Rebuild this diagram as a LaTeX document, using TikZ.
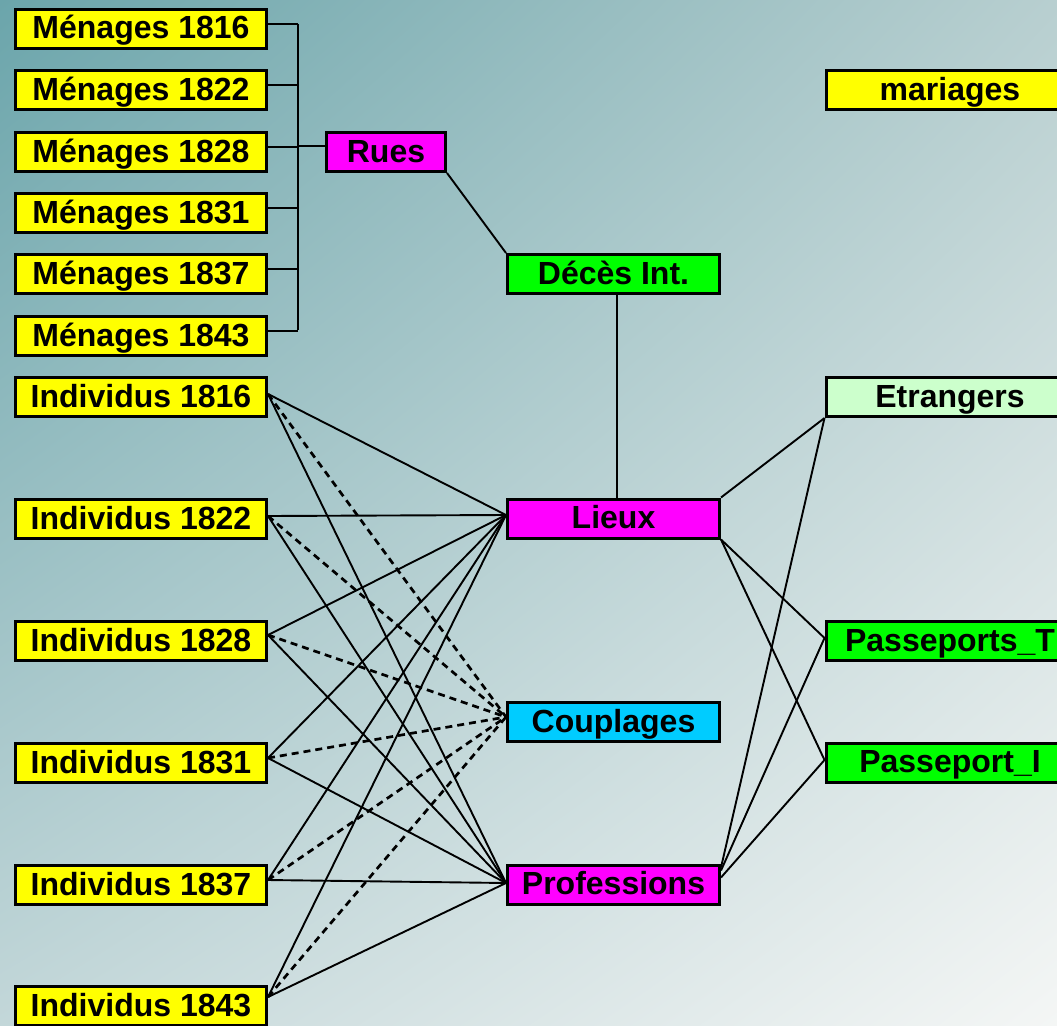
\documentclass[tikz,border=0pt]{standalone}
\usepackage{fontspec}
\setmainfont{Liberation Sans}
\usetikzlibrary{shadings}
\definecolor{bgUL}{HTML}{6BA5AB}
\definecolor{bgUR}{HTML}{B8CFD0}
\definecolor{bgLL}{HTML}{C3D7D9}
\definecolor{bgLR}{HTML}{F4F6F5}
\definecolor{boxyellow}{HTML}{FFFF00}
\definecolor{boxmagenta}{HTML}{FF00FF}
\definecolor{boxgreen}{HTML}{00FF00}
\definecolor{boxcyan}{HTML}{00CCFF}
\definecolor{boxpale}{HTML}{CCFFCC}
\begin{document}
\begin{tikzpicture}[x=1pt,y=-1pt,
  box/.style={draw=black, line width=3pt, minimum width=251pt, minimum height=39pt,
    inner sep=0pt, text height=26pt, text depth=6pt,
    font=\fontsize{32}{36}\selectfont\bfseries},
  midbox/.style={box, minimum width=212pt},
  rbox/.style={box, minimum width=248pt},
  link/.style={draw=black, line width=1.9pt},
  dlink/.style={draw=black, line width=2.7pt, dash pattern=on 7pt off 5pt}]
\useasboundingbox (0,0) rectangle (1057,1025);
\clip (0,0) rectangle (1057,1025);
\shade[upper left=bgUL, upper right=bgUR, lower left=bgLL, lower right=bgLR]
  (0,0) rectangle (1057,1025);

% left column
\node[box, fill=boxyellow] (m1) at (141,29)  {Ménages 1816};
\node[box, fill=boxyellow] (m2) at (141,90)  {Ménages 1822};
\node[box, fill=boxyellow] (m3) at (141,152) {Ménages 1828};
\node[box, fill=boxyellow] (m4) at (141,213) {Ménages 1831};
\node[box, fill=boxyellow] (m5) at (141,274) {Ménages 1837};
\node[box, fill=boxyellow] (m6) at (141,336) {Ménages 1843};
\node[box, fill=boxyellow] (i1) at (141,397)  {Individus 1816};
\node[box, fill=boxyellow] (i2) at (141,519)  {Individus 1822};
\node[box, fill=boxyellow] (i3) at (141,641)  {Individus 1828};
\node[box, fill=boxyellow] (i4) at (141,763)  {Individus 1831};
\node[box, fill=boxyellow] (i5) at (141,885)  {Individus 1837};
\node[box, fill=boxyellow] (i6) at (141,1006) {Individus 1843};

% middle column
\node[box, fill=boxmagenta, minimum width=119pt] (rues) at (386,152) {Rues};
\node[midbox, fill=boxgreen]   (deces) at (613.5,274)   {Décès Int.};
\node[midbox, fill=boxmagenta] (lieux) at (613.5,518.5) {Lieux};
\node[midbox, fill=boxcyan]    (coup)  at (613.5,722)   {Couplages};
\node[midbox, fill=boxmagenta] (prof)  at (613.5,884.5) {Professions};

% right column
\node[rbox, fill=boxyellow] (mar) at (950,90)    {mariages};
\node[rbox, fill=boxpale]   (etr) at (950,397)   {Etrangers};
\node[rbox, fill=boxgreen]  (pt)  at (950,641)   {Passeports\_T};
\node[rbox, fill=boxgreen]  (pi)  at (950,762.5) {Passeport\_I};

% Menages bracket
\coordinate (bx) at (298,0);
\foreach \m in {m1,m2,m3,m4,m5,m6}{
  \draw[link] ([yshift=5pt]\m.east) -- ([yshift=5pt]\m.east -| bx);
}
\draw[link] ([yshift=5pt]m1.east -| bx) -- ([yshift=6pt]m6.east -| bx);
\draw[link] ([yshift=6pt]m3.east -| bx) -- ([yshift=6pt]rues.west);

% Rues - Deces - Lieux
\draw[link] (rues.south east) -- (deces.north west);
\draw[link] ([xshift=3.5pt]deces.south) -- ([xshift=3.5pt]lieux.north);

% Individus links
\foreach \i/\s in {i1/3,i2/3,i3/6,i4/5,i5/5,i6/9}{
  \draw[link]  ([yshift=\s pt]\i.east) -- ([yshift=3.5pt]lieux.west);
  \draw[dlink] ([yshift=\s pt]\i.east) -- ([yshift=5pt]coup.west);
  \draw[link]  ([yshift=\s pt]\i.east) -- ([yshift=1.5pt]prof.west);
}

% right side links
\draw[link] (lieux.north east) -- (etr.south west);
\draw[link] (lieux.south east) -- ([yshift=3pt]pt.west);
\draw[link] (lieux.south east) -- ([yshift=2.5pt]pi.west);
\draw[link] ([yshift=17pt]prof.east) -- (etr.south west);
\draw[link] ([yshift=14pt]prof.east) -- ([yshift=3pt]pt.west);
\draw[link] ([yshift=7pt]prof.east) -- ([yshift=2.5pt]pi.west);
\end{tikzpicture}
\end{document}
